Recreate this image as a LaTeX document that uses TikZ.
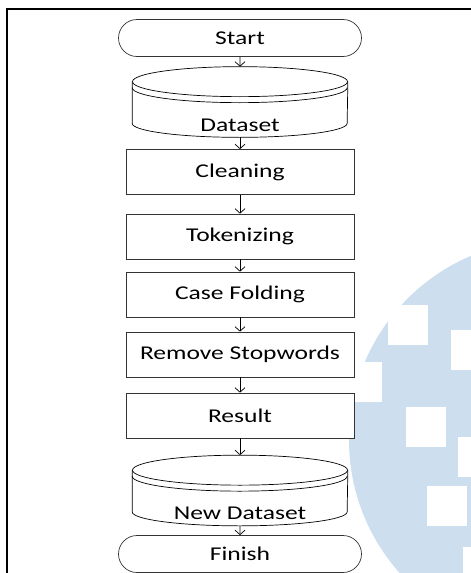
\documentclass[tikz,border=0pt]{standalone}
\usepackage{fontspec}
\setmainfont{Carlito}[FakeStretch=1.31]
\usetikzlibrary{shapes.misc, arrows.meta, calc}

\definecolor{markblue}{RGB}{205,223,238}

\tikzset{
    procbox/.style={draw=black!80, fill=white, minimum width=228pt, minimum height=45pt, inner sep=0pt},
    termbox/.style={draw=black!80, fill=white, rounded rectangle, minimum width=243pt, minimum height=37pt, inner sep=0pt},
    diskbox/.style={minimum width=215pt, inner sep=0pt, text height=64pt, text depth=6pt},
}

% outline of a stored data shape round a diskbox node
\newcommand{\drawdisk}[1]{%
    \draw (#1.north) ++(0, 15) ellipse [x radius=107.5, y radius=15];
    \draw ($(#1.north west) + (0, 21)$) arc [start angle=180, end angle=0, x radius=107.5, y radius=15];
    \draw ($(#1.north west) + (0, 15)$) -- ($(#1.south west) + (0, -14)$)
        arc [start angle=180, end angle=0, x radius=107.5, y radius=14]
        -- ($(#1.north east) + (0, 15)$);
}

\begin{document}
\begin{tikzpicture}[
        x=1pt, y=-1pt,
        line width=0.7pt,
        >={Straight Barb[length=4.5pt, width=10pt]},
        every node/.style={font=\fontsize{19.5pt}{22pt}\selectfont},
    ]
    \useasboundingbox (0, 0) rectangle (471, 573);

    % watermark
    \begin{scope}
        \clip (0, 0) rectangle (471, 573);
        \fill[markblue] (549, 440) circle [radius=200];
        \foreach \sx/\sy in {388/305, 342/362, 451/330, 406/407, 458/437, 427/486, 463/547}
            \fill[white] (\sx, \sy) rectangle +(40, 40);
    \end{scope}

    % frame
    \draw[line width=2pt] (7, 573) -- (7, 9) -- (471, 9);

    \node[termbox] (start) at (240, 38) {Start};
    \node[diskbox] (data) at (240, 102) {Dataset};
    \drawdisk{data}
    \node[procbox] (clean) at (240, 172) {Cleaning};
    \node[procbox] (token) at (240, 236.5) {Tokenizing};
    \node[procbox] (fold) at (240, 294.5) {Case Folding};
    \node[procbox] (stop) at (240, 354.5) {Remove Stopwords};
    \node[procbox] (result) at (240, 415.5) {Result};
    \node[diskbox] (newdata) at (240, 490.5) {New Dataset};
    \drawdisk{newdata}
    \node[termbox] (finish) at (240, 554) {Finish};

    \draw[->] (start) -- (data);
    \draw[->] (data) -- (clean);
    \draw[->] (clean) -- (token);
    \draw[->] (token) -- (fold);
    \draw[->] (fold) -- (stop);
    \draw[->] (stop) -- (result);
    \draw[->] (result) -- (newdata);
    \draw[->] (newdata) -- (finish);
\end{tikzpicture}
\end{document}
